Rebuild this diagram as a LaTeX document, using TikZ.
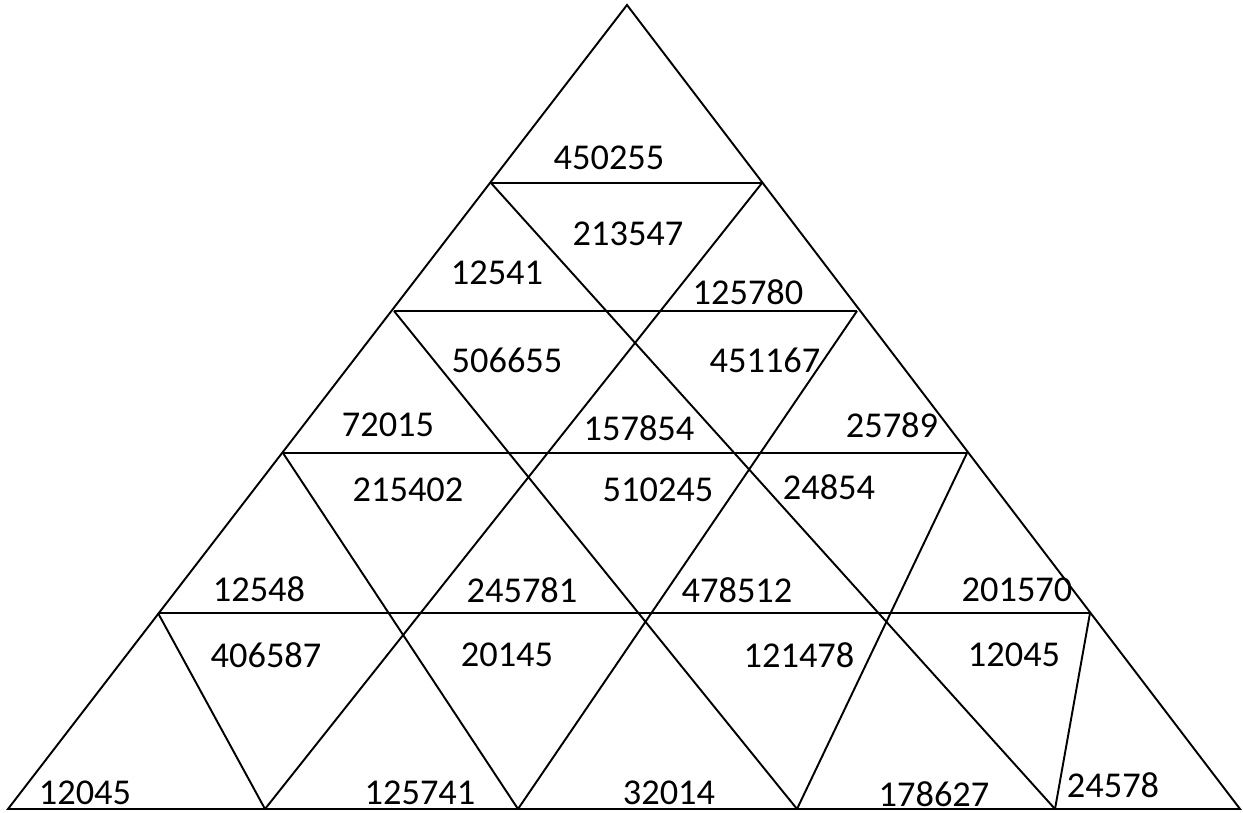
\documentclass[tikz,border=0pt]{standalone}
\usepackage{fontspec}
\setmainfont{Carlito}
\begin{document}
\begin{tikzpicture}[x=0.02cm,y=-0.02cm,line width=1.1pt,every node/.style={inner sep=0pt,font=\fontsize{20.7}{25}\selectfont}]
  \useasboundingbox (0,0) rectangle (1243,813);
  % outer triangle and rows
  \coordinate (t) at (627,5); \coordinate (l) at (8,809); \coordinate (r) at (1240,809);
  \coordinate (a1) at (491,183); \coordinate (a2) at (762,183);
  \coordinate (c1) at (394,311); \coordinate (c2) at (857,311);
  \coordinate (e1) at (283,453); \coordinate (e2) at (967,453);
  \coordinate (g1) at (158,613); \coordinate (g2) at (1090,613);
  \foreach \i/\x in {1/265,2/518,3/797,4/1055} \coordinate (b\i) at (\x,809);
  \draw (t)--(l)--(r)--cycle;
  \draw (a1)--(a2); \draw (c1)--(c2); \draw (e1)--(e2); \draw (g1)--(g2);
  % slanted cuts
  \draw (a1)--(b4); \draw (a2)--(b1);
  \draw (c1)--(b3); \draw (c2)--(b2);
  \draw (e1)--(b2); \draw (e2)--(b3);
  \draw (g1)--(b1); \draw (g2)--(b4);
  % numbers
  \foreach \txt/\x/\y [count=\i] in {450255/609/158,213547/628/234,12541/497/273,125780/748/292,
    506655/507/360,451167/765/360,72015/388/425,157854/639/428,25789/892/425,
    215402/408/490,510245/658/490,24854/829/487,12548/259/589,245781/522/590,
    478512/737/590,201570/1017/590,406587/266/655,20145/507/655,121478/799/655,
    12045/1014/655,12045/85/793,125741/420/793,32014/669/793,178627/934/794,24578/1113/785}
    \node (n\i) at (\x,\y) {\txt};
\end{tikzpicture}
\end{document}
